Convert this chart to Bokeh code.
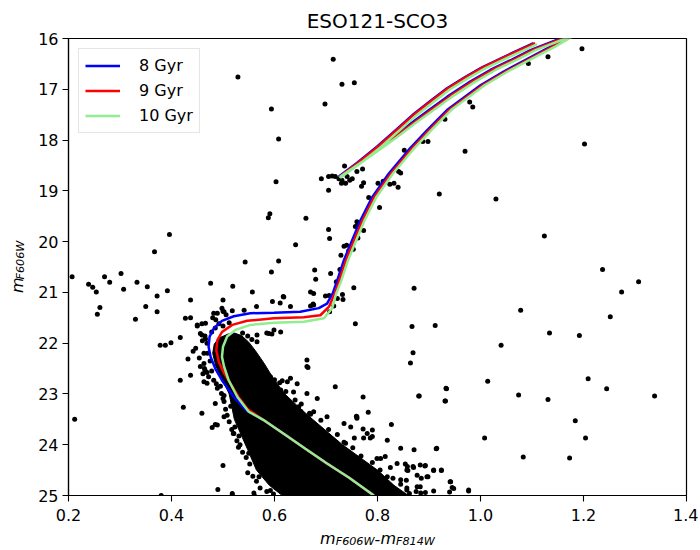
import math
from bokeh.plotting import figure
from bokeh.layouts import column, row
from bokeh.models import Range1d, FixedTicker, NumeralTickFormatter, Legend, LegendItem
from bokeh.core.properties import value
from bokeh.embed import file_html
from bokeh.resources import INLINE

# ---------------- data ----------------
title_text = "ESO121-SCO3"
x_ticks = [0.2, 0.4, 0.6, 0.8, 1.0, 1.2, 1.4]
y_ticks = [16, 17, 18, 19, 20, 21, 22, 23, 24, 25]
ages = ["8 Gyr", "9 Gyr", "10 Gyr"]

# sparse field / giant-branch stars (colour, magnitude)
field_color = [0.920, 1.030, 1.124, 1.237, 1.307, 1.274, 0.871, 1.078, 1.252, 0.867, 0.912, 1.134, 1.192, 1.040,
               0.869, 0.864, 1.014, 1.209, 1.245, 0.934, 0.881, 1.074, 1.131, 0.931, 1.338, 1.184, 1.008, 1.204,
               0.915, 1.083, 1.173,
               0.714, 0.731, 0.755, 1.197, 1.131, 1.093, 0.979, 0.985, 0.931, 0.888, 0.898, 0.970, 1.202, 0.852,
               0.736, 0.760, 0.771, 0.841, 0.845,
               0.529, 0.594, 0.698, 0.608,
               0.691, 0.705, 0.712, 0.718, 0.725, 0.731, 0.741, 0.746, 0.751, 0.738, 0.730, 0.705, 0.773, 0.769,
               0.801, 0.811, 0.783, 0.804, 0.824, 0.832, 0.840, 0.661, 0.705, 0.707, 0.760, 0.763, 0.757, 0.773,
               0.735, 0.740, 0.753, 0.744, 0.729, 0.762, 0.678, 0.680, 0.709, 0.720, 0.727, 0.728, 0.676, 0.699,
               0.706, 0.675, 0.722, 0.732, 0.733, 0.715, 0.707, 0.754, 0.757,
               0.207, 0.239, 0.247, 0.254, 0.270, 0.280, 0.261, 0.256, 0.302, 0.307, 0.333, 0.353, 0.330, 0.350,
               0.372, 0.372, 0.392, 0.367, 0.396, 0.437, 0.437, 0.476, 0.500, 0.519, 0.543, 0.450, 0.417, 0.399,
               0.388, 0.378, 0.459, 0.482, 0.486, 0.506, 0.498,
               0.442, 0.432, 0.454, 0.417, 0.423, 0.459, 0.469, 0.212, 0.479, 0.489, 0.500, 0.500, 0.490, 0.518,
               0.380,
               0.603, 0.591, 0.588, 0.641, 0.608, 0.594, 0.557, 0.596, 0.617, 0.565]
field_mag = [19.06, 19.16, 19.89, 20.55, 20.79, 20.99, 20.92, 21.35, 21.48, 21.67, 21.65, 21.80, 21.85, 22.04,
             22.19, 22.39, 22.75, 22.70, 22.90, 22.90, 23.04, 23.02, 23.11, 23.14, 23.04, 23.53, 23.87, 23.87,
             24.07, 24.24, 24.26,
             16.41, 16.90, 16.87, 16.20, 16.36, 16.49, 17.25, 17.35, 17.59, 18.03, 18.03, 18.22, 18.08, 18.20,
             18.51, 18.62, 18.57, 18.62, 18.65,
             16.76, 17.39, 17.29, 17.98,
             18.76, 18.72, 18.71, 18.72, 18.76, 18.79, 18.72, 18.79, 18.76, 18.85, 18.85, 18.99, 18.84, 18.91,
             18.85, 18.81, 19.13, 19.33, 18.87, 18.85, 18.93, 19.54, 19.76, 19.94, 19.61, 19.66, 19.70, 19.78,
             20.09, 20.07, 20.15, 20.18, 20.27, 19.93, 20.56, 20.74, 20.63, 20.79, 20.55, 20.66, 21.02, 21.07,
             21.06, 21.23, 21.12, 21.04, 21.14, 21.27, 21.38, 20.91, 21.62,
             20.69, 20.84, 20.90, 20.99, 20.69, 20.80, 21.30, 21.43, 20.63, 20.94, 20.80, 20.89, 21.53, 21.28,
             21.07, 21.38, 20.97, 20.20, 19.86, 21.15, 21.50, 20.82, 21.15, 20.88, 20.40, 21.66, 21.89, 21.99,
             22.04, 22.04, 21.62, 21.41, 21.54, 21.44, 21.31,
             22.16, 22.31, 22.29, 22.73, 23.26, 23.38, 22.79, 23.50, 23.66, 23.61, 23.09, 24.41, 24.88, 24.99,
             25.00,
             18.82, 19.45, 19.53, 20.06, 20.38, 20.60, 20.99, 21.18, 21.08, 21.28]

# main-sequence stars around the dense core (colour, magnitude)
ms_color = [0.463, 0.461, 0.464, 0.469, 0.482, 0.489, 0.497, 0.469, 0.459, 0.466, 0.470, 0.475, 0.478, 0.485,
            0.492, 0.500, 0.512, 0.478, 0.487, 0.495, 0.502, 0.505, 0.508, 0.512, 0.517, 0.520, 0.527, 0.533,
            0.538, 0.545, 0.552, 0.548, 0.558, 0.565, 0.572, 0.585, 0.598, 0.560, 0.518, 0.570, 0.550, 0.521,
            0.530, 0.485, 0.450, 0.456, 0.465, 0.460, 0.463, 0.456, 0.465, 0.472, 0.463, 0.447, 0.437, 0.502,
            0.485, 0.502, 0.561, 0.592, 0.531, 0.523, 0.515,
            0.502, 0.518, 0.541, 0.611, 0.631, 0.670, 0.670, 0.676, 0.618, 0.427, 0.466, 0.489, 0.500, 0.480,
            0.566, 0.585, 0.595, 0.612, 0.589, 0.599, 0.566, 0.663, 0.663, 0.665, 0.718, 0.631, 0.615, 0.644,
            0.599, 0.586, 0.573, 0.599, 0.625, 0.651, 0.670, 0.644, 0.576, 0.592, 0.600, 0.625, 0.612, 0.637,
            0.663, 0.683, 0.647, 0.676, 0.702, 0.772, 0.760, 0.760, 0.735, 0.748, 0.780, 0.790, 0.819, 0.845,
            0.871, 0.883, 0.870, 0.858, 0.806, 0.782, 0.759, 0.827, 0.880, 0.933, 0.932, 0.914, 0.909, 0.924,
            0.892, 0.877, 0.857, 0.838, 0.825, 0.815, 0.799, 0.786, 0.773, 0.755, 0.790, 0.772, 0.738, 0.819,
            0.845, 0.896, 0.942, 0.945, 0.977, 0.883, 0.857, 0.825, 0.806,
            0.854, 0.869, 0.893, 0.859, 0.909, 0.924, 0.898, 0.885, 0.856, 0.941, 0.948, 0.977, 0.909, 0.940,
            0.877, 0.857, 0.875, 0.893, 0.884,
            0.610, 0.622, 0.640, 0.652, 0.668, 0.690, 0.705, 0.722, 0.735, 0.752, 0.768, 0.790, 0.805, 0.830,
            0.845, 0.862, 0.538, 0.548, 0.556]
ms_mag = [22.40, 22.60, 22.50, 22.58, 22.73, 22.89, 22.99, 22.00, 21.84, 21.92, 22.20, 22.35, 21.78, 21.70,
          21.62, 21.66, 21.60, 22.55, 22.80, 22.85, 23.15, 23.30, 23.42, 23.55, 23.70, 23.78, 23.92, 24.00,
          24.15, 24.25, 24.38, 24.55, 24.62, 24.72, 24.85, 24.92, 24.97, 24.95, 24.96, 24.63, 24.17, 23.78,
          24.05, 23.60, 21.64, 21.81, 21.86, 21.95, 22.20, 22.46, 22.53, 22.66, 22.76, 22.10, 22.63, 23.45,
          23.19, 23.03, 25.00, 24.90, 23.83, 23.65, 23.24,
          21.38, 21.36, 21.35, 21.21, 21.28, 21.27, 20.99, 21.25, 21.09, 21.51, 21.61, 21.41, 21.37, 21.50,
          21.84, 21.80, 21.82, 21.78, 21.81, 21.74, 21.97, 22.33, 22.46, 22.48, 22.86, 22.69, 22.74, 22.80,
          22.78, 22.96, 23.05, 23.08, 23.25, 23.34, 23.40, 23.43, 22.43, 22.66, 22.72, 22.76, 22.92, 22.96,
          22.99, 23.09, 23.25, 23.35, 23.45, 23.06, 23.45, 23.48, 23.58, 23.65, 23.78, 23.84, 23.91, 24.07,
          24.10, 24.40, 24.45, 24.43, 24.27, 23.36, 23.44, 23.60, 23.04, 22.89, 23.14, 24.08, 24.50, 24.50,
          24.42, 24.60, 24.50, 24.37, 24.45, 24.23, 24.27, 23.87, 23.87, 23.87, 23.71, 23.69, 23.97, 24.63,
          24.69, 24.63, 24.73, 24.84, 24.89, 24.83, 24.89, 24.92, 24.83,
          24.38, 24.43, 24.41, 24.51, 24.51, 24.51, 24.63, 24.66, 24.70, 24.73, 24.86, 24.91, 24.91, 24.93,
          24.83, 24.85, 24.92, 24.94, 24.95,
          22.78, 22.95, 23.12, 23.20, 23.38, 23.52, 23.70, 23.80, 23.95, 24.06, 24.22, 24.35, 24.50, 24.66,
          24.78, 24.96, 21.80, 21.86, 21.93]

# outline of the fully saturated main-sequence core (colour, magnitude)
core_color = [0.510, 0.492, 0.483, 0.480, 0.486, 0.498, 0.512, 0.522, 0.535, 0.548, 0.565, 0.590, 0.615,
              0.860, 0.832, 0.800, 0.766, 0.732, 0.703, 0.674, 0.646, 0.620, 0.598, 0.580, 0.563, 0.550,
              0.536, 0.522]
core_mag = [21.82, 21.90, 22.02, 22.20, 22.45, 22.70, 23.00, 23.50, 23.80, 24.10, 24.50, 24.80, 25.00,
            25.00, 24.80, 24.50, 24.25, 24.00, 23.75, 23.50, 23.25, 23.00, 22.70, 22.40, 22.15, 21.98,
            21.85, 21.80]

# isochrones: main sequence -> red giant branch
rgb8_color = [0.793, 0.745, 0.702, 0.660, 0.620, 0.578, 0.545, 0.521, 0.498, 0.485, 0.476, 0.472, 0.474, 0.482,
              0.498, 0.521, 0.553, 0.599, 0.650, 0.686, 0.702, 0.713, 0.722, 0.735, 0.751, 0.767, 0.790, 0.822,
              0.860, 0.897, 0.935, 1.000, 1.045, 1.095, 1.136, 1.162, 1.190]
rgb8_mag = [25.00, 24.65, 24.37, 24.08, 23.80, 23.51, 23.32, 23.06, 22.73, 22.50, 22.27, 22.07, 21.87, 21.71,
            21.56, 21.47, 21.41, 21.40, 21.38, 21.31, 21.22, 21.02, 20.76, 20.36, 19.97, 19.58, 19.12, 18.66,
            18.20, 17.80, 17.41, 16.92, 16.65, 16.38, 16.16, 16.00, 15.85]
rgb9_color = [0.793, 0.745, 0.702, 0.660, 0.620, 0.578, 0.548, 0.530, 0.518, 0.502, 0.492, 0.487, 0.489, 0.498,
              0.518, 0.547, 0.599, 0.657, 0.689, 0.706, 0.717, 0.726, 0.739, 0.755, 0.771, 0.794, 0.826, 0.864,
              0.901, 0.939, 1.004, 1.049, 1.099, 1.140, 1.166, 1.194]
rgb9_mag = [25.00, 24.65, 24.37, 24.08, 23.80, 23.51, 23.30, 23.06, 22.85, 22.59, 22.37, 22.14, 21.94, 21.78,
            21.64, 21.56, 21.51, 21.49, 21.45, 21.28, 21.02, 20.76, 20.36, 19.97, 19.58, 19.12, 18.66, 18.20,
            17.80, 17.41, 16.92, 16.65, 16.38, 16.16, 16.00, 15.85]
rgb10_color = [0.793, 0.745, 0.702, 0.660, 0.620, 0.578, 0.550, 0.528, 0.511, 0.502, 0.498, 0.500, 0.508, 0.524,
               0.553, 0.599, 0.657, 0.696, 0.712, 0.720, 0.730, 0.743, 0.759, 0.775, 0.798, 0.830, 0.868, 0.905,
               0.943, 1.008, 1.053, 1.103, 1.145, 1.172, 1.200]
rgb10_mag = [25.00, 24.65, 24.37, 24.08, 23.80, 23.51, 23.35, 23.06, 22.73, 22.46, 22.27, 22.07, 21.87, 21.74,
             21.64, 21.60, 21.58, 21.51, 21.31, 21.02, 20.76, 20.36, 19.97, 19.58, 19.12, 18.66, 18.20, 17.80,
             17.41, 16.92, 16.65, 16.38, 16.16, 16.00, 15.85]

# tip -> horizontal branch
tip_mag = [15.85, 16.00, 16.23, 16.42, 16.62, 16.85, 17.15, 17.41, 17.68, 17.95, 18.32, 18.72]
tip8_color = [1.190, 1.155, 1.097, 1.060, 1.019, 0.980, 0.935, 0.900, 0.864, 0.830, 0.780, 0.725]
tip9_color = [1.194, 1.159, 1.101, 1.064, 1.023, 0.984, 0.939, 0.904, 0.868, 0.833, 0.783, 0.727]
tip10_color = [1.200, 1.165, 1.107, 1.070, 1.029, 0.990, 0.944, 0.909, 0.872, 0.837, 0.786, 0.728]

# horizontal branch -> asymptotic giant branch
agb_mag = [18.72, 18.45, 18.12, 17.78, 17.48, 17.21, 16.98, 16.76, 16.57, 16.34, 16.09]
agb10_mag = [18.74, 18.47, 18.14, 17.80, 17.50, 17.23, 17.00, 16.78, 16.59, 16.36, 16.11]
agb8_color = [0.725, 0.760, 0.800, 0.838, 0.871, 0.905, 0.935, 0.970, 1.003, 1.050, 1.103]
agb9_color = [0.727, 0.762, 0.802, 0.840, 0.873, 0.907, 0.937, 0.972, 1.005, 1.052, 1.106]
agb10_color = [0.728, 0.765, 0.806, 0.844, 0.877, 0.911, 0.941, 0.976, 1.009, 1.056, 1.110]

iso_colors = ["#0000ff", "#ff0000", "#90ee90"]

# ---------------- layout sizes (pixels) ----------------
FONT = "DejaVu Sans"
TOTAL_W, MAIN_H, XLAB_H, YLAB_W = 698, 527, 22, 30

# ---------------- main figure ----------------
p = figure(width=TOTAL_W - YLAB_W, height=MAIN_H, output_backend="svg", toolbar_location=None,
           x_range=Range1d(0.2, 1.4), y_range=Range1d(25, 16),
           min_border_left=38, min_border_right=12, min_border_top=38, min_border_bottom=32,
           title=title_text)
p.title.align = "center"
p.title.text_font = FONT
p.title.text_font_size = "20px"
p.title.text_font_style = "normal"
p.title.text_color = "black"
p.title.standoff = 12
p.grid.visible = False
p.outline_line_color = "black"
p.outline_line_width = 1.2
p.outline_line_alpha = 1.0

for ax in (p.xaxis[0], p.yaxis[0]):
    ax.axis_line_color = "black"
    ax.axis_line_width = 1.2
    ax.major_tick_line_color = "black"
    ax.major_tick_line_width = 1.1
    ax.major_tick_out = 6
    ax.major_tick_in = 0
    ax.minor_tick_line_color = None
    ax.major_label_text_font = FONT
    ax.major_label_text_font_size = "16px"
    ax.major_label_text_color = "black"
p.xaxis.major_label_standoff = 7
p.yaxis.major_label_standoff = 4
p.xaxis.ticker = FixedTicker(ticks=x_ticks)
p.xaxis.formatter = NumeralTickFormatter(format="0.0")
p.yaxis.ticker = FixedTicker(ticks=y_ticks)

# stars
p.patch(core_color, core_mag, fill_color="black", line_color="black", line_width=1)
p.scatter(ms_color, ms_mag, size=5, fill_color="black", line_color=None)
p.scatter(field_color, field_mag, size=5, fill_color="black", line_color=None)

# isochrones (one continuous track each)
tracks = [
    (rgb8_color + tip8_color + agb8_color, rgb8_mag + tip_mag + agb_mag),
    (rgb9_color + tip9_color + agb9_color, rgb9_mag + tip_mag + agb_mag),
    (rgb10_color + tip10_color + agb10_color, rgb10_mag + tip_mag + agb10_mag),
]
renderers = []
for (cx, my), col in zip(tracks, iso_colors):
    renderers.append(p.line(cx, my, line_color=col, line_width=2.5))

legend = Legend(items=[LegendItem(label=a, renderers=[r]) for a, r in zip(ages, renderers)],
                location="top_left", margin=10, padding=6, spacing=4,
                glyph_width=35, glyph_height=21, label_height=21, label_standoff=19,
                label_text_font=FONT, label_text_font_size="16px", label_text_color="black",
                border_line_color="#cccccc", border_line_width=1,
                background_fill_color="white", background_fill_alpha=0.8)
p.add_layout(legend)


# ---------------- axis-title strips (pixel coordinates) ----------------
def strip(w, h, x0, x1, y0, y1):
    f = figure(width=w, height=h, output_backend="svg", toolbar_location=None,
               x_range=Range1d(x0, x1), y_range=Range1d(y0, y1),
               x_axis_location=None, y_axis_location=None, min_border=0)
    f.grid.visible = False
    f.outline_line_color = None
    return f


def put(f, x, y, s, size, style="italic", angle=0.0):
    f.text(x=[x], y=[y], text=[s], angle=angle, text_font=value(FONT), text_font_size=value(size),
           text_font_style=style, text_color="black", text_align="left", text_baseline="alphabetic")


# y label: m_F606W, rotated
ylab = strip(YLAB_W, MAIN_H, 0, YLAB_W, MAIN_H, 0)
put(ylab, 17, 293.5, "m", "16px", angle=math.pi / 2)
put(ylab, 20, 277.9, "F606W", "11.2px", angle=math.pi / 2)

# x label: m_F606W-m_F814W  (strip spans page rows 527..549)
xlab = strip(TOTAL_W, XLAB_H, 0, TOTAL_W, MAIN_H + XLAB_H, MAIN_H)
x0 = 319.6
put(xlab, x0, 538, "m", "16px")
put(xlab, x0 + 15.6, 540.5, "F606W", "11.2px")
put(xlab, x0 + 54.5, 538, "-", "16px", style="normal")
put(xlab, x0 + 60.3, 538, "m", "16px")
put(xlab, x0 + 75.9, 540.5, "F814W", "11.2px")

layout = column(row(ylab, p, spacing=0), xlab, spacing=0)
open("out.html", "w").write(file_html(layout, INLINE))
